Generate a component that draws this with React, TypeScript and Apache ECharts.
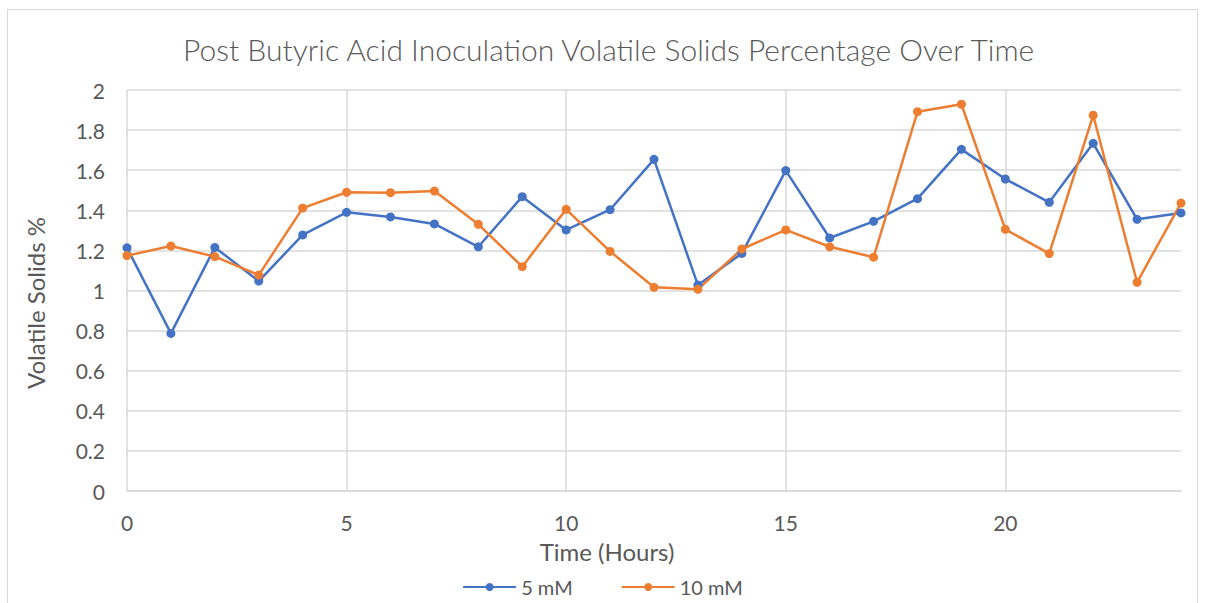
import React, { useEffect, useRef } from "react";
import * as echarts from "echarts";

const hours = [0, 1, 2, 3, 4, 5, 6, 7, 8, 9, 10, 11, 12, 13, 14, 15, 16, 17, 18, 19, 20, 21, 22, 23, 24];
const mM5 = [1.213, 0.786, 1.215, 1.047, 1.277, 1.39, 1.367, 1.332, 1.218, 1.468, 1.302, 1.403, 1.654, 1.027, 1.185, 1.598, 1.262, 1.345, 1.458, 1.704, 1.556, 1.44, 1.734, 1.355, 1.387];
const mM10 = [1.174, 1.222, 1.169, 1.077, 1.411, 1.49, 1.488, 1.496, 1.33, 1.119, 1.405, 1.195, 1.016, 1.006, 1.207, 1.302, 1.218, 1.166, 1.892, 1.929, 1.305, 1.184, 1.874, 1.041, 1.436];
const seriesNames = ["5 mM", "10 mM"];
const colors = ["#4472C4", "#ED7D31"];
const xAxisTitle = "Time (Hours)";
const yAxisTitle = "Volatile Solids %";

const FONT = "Lato";
const TXT = "#595959";

export default function App() {
  const ref = useRef<HTMLDivElement>(null);
  useEffect(() => {
    if (!ref.current) return;
    const chart = echarts.init(ref.current, null, { renderer: "svg" });
    const mk = (arr: number[]) => hours.map((h, i) => [h, arr[i]]);
    chart.setOption({
      animation: false,
      backgroundColor: "#fff",
      textStyle: { fontFamily: FONT },
      title: {
        text: "Post Butyric Acid Inoculation Volatile Solids Percentage Over Time",
        left: 178,
        top: 29,
        textStyle: { fontFamily: FONT, fontSize: 30, fontWeight: 300, color: TXT },
      },
      graphic: [
        {
          type: "rect",
          shape: { x: 7.5, y: 9.5, width: 1190, height: 600 },
          style: { fill: "none", stroke: "#D9D9D9", lineWidth: 1 },
          silent: true,
        },
        {
          type: "text",
          x: 607,
          y: 551,
          style: {
            text: xAxisTitle,
            fontFamily: FONT,
            fontSize: 24,
            fill: TXT,
            align: "center",
            verticalAlign: "middle",
          },
          silent: true,
        },
        {
          type: "text",
          x: 35,
          y: 303,
          rotation: Math.PI / 2,
          style: {
            text: yAxisTitle,
            fontFamily: FONT,
            fontSize: 24,
            fill: TXT,
            align: "center",
            verticalAlign: "middle",
          },
          silent: true,
        },
      ],
      legend: {
        bottom: 1,
        left: "center",
        itemWidth: 53,
        itemHeight: 10,
        itemGap: 48,
        textStyle: { fontFamily: FONT, fontSize: 20, color: TXT },
        data: seriesNames,
      },
      grid: { left: 127, right: 24, top: 90, bottom: 112 },
      xAxis: {
        type: "value",
        min: 0,
        max: 24,
        interval: 5,
        axisLine: { show: true, lineStyle: { color: "#D9D9D9", width: 1.5 } },
        axisTick: { show: false },
        axisLabel: { showMaxLabel: false, margin: 21, fontFamily: FONT, fontSize: 21, color: TXT },
        splitLine: { show: true, showMaxLine: false, lineStyle: { color: "#D9D9D9", width: 1.5 } },
      },
      yAxis: {
        type: "value",
        min: 0,
        max: 2,
        interval: 0.2,
        axisLine: { show: false },
        axisTick: { show: false },
        axisLabel: {
          margin: 22,
          fontFamily: FONT,
          fontSize: 21,
          color: TXT,
          formatter: (v: number) => String(Math.round(v * 10) / 10),
        },
        splitLine: { show: true, lineStyle: { color: "#D9D9D9", width: 1.5 } },
      },
      series: [
        {
          name: seriesNames[0],
          type: "line",
          data: mk(mM5),
          symbol: "circle",
          symbolSize: 9,
          itemStyle: { color: colors[0] },
          lineStyle: { color: colors[0], width: 2.5 },
        },
        {
          name: seriesNames[1],
          type: "line",
          data: mk(mM10),
          symbol: "circle",
          symbolSize: 9,
          itemStyle: { color: colors[1] },
          lineStyle: { color: colors[1], width: 2.5 },
        },
      ],
    });
    return () => chart.dispose();
  }, []);
  return (
    <div
      ref={ref}
      style={{ position: "fixed", left: 0, top: 0, width: 1205, height: 603 }}
    />
  );
}
